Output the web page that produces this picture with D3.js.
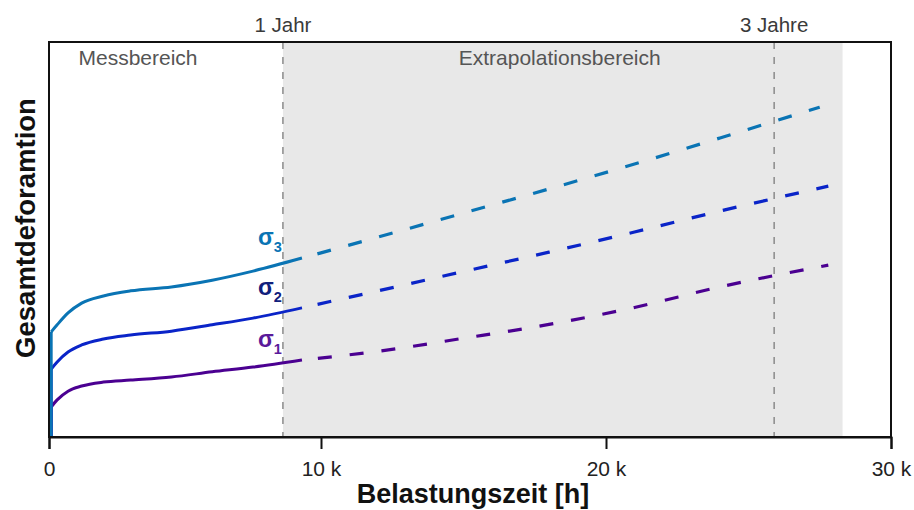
<!DOCTYPE html>
<html>
<head>
<meta charset="utf-8">
<script src="https://cdn.jsdelivr.net/npm/d3@7"></script>
<style>
  body { margin: 0; background: #fff; }
  svg { display: block; font-family: "Liberation Sans", Arial, sans-serif; }
</style>
</head>
<body>
<svg id="chart" width="914" height="510"></svg>
<script>
// Belastungszeit [h] - gemessener Bereich
const tSolid = [80, 300, 700, 1200, 2000, 3000, 4500, 6000, 7500, 9300];
const sigma1Solid = [7.6, 9.4, 11.6, 12.9, 13.9, 14.4, 15.2, 16.5, 17.7, 19.5];
const sigma2Solid = [17.2, 19.0, 21.5, 23.3, 24.8, 25.8, 26.8, 28.4, 30.1, 32.7];
const sigma3Solid = [26.6, 28.4, 31.4, 33.9, 35.7, 37.0, 38.0, 39.7, 42.0, 45.3];

// Extrapolation
const tExtra = [9300, 12000, 15000, 18000, 21000, 24000, 27800];
const tExtra3 = [9300, 12000, 15000, 18000, 21000, 24000, 27500];
const sigma1Extra = [19.5, 21.7, 25.0, 28.5, 32.8, 38.0, 43.5];
const sigma2Extra = [32.7, 37.0, 41.9, 46.8, 51.9, 57.2, 63.5];
const sigma3Extra = [45.3, 50.6, 56.7, 62.8, 69.1, 75.7, 83.5];

const seriesNames = ["1", "2", "3"];
const seriesColors = ["#4b0091", "#0a24c8", "#0a74b4"];
const labelColors = ["#5a1a9a", "#10207c", "#0a74b4"];

const xTicks = [0, 10000, 20000, 30000];
const markers = [8600, 25900];
const markerLabels = ["1 Jahr", "3 Jahre"];
const extraEnd = 28300;

const margin = { top: 42, right: 23, bottom: 73, left: 49 };
const W = 914, H = 510;

const svg = d3.select("#chart");

const x = d3.scaleLinear()
  .domain([0, 10000, 30000])
  .range([49, 321, 891]);
const y = d3.scaleLinear()
  .domain([0, 100])
  .range([H - margin.bottom, margin.top]);

// Extrapolationsbereich (grau)
svg.append("rect")
  .attr("x", x(markers[0]))
  .attr("y", margin.top)
  .attr("width", x(extraEnd) - x(markers[0]))
  .attr("height", y(0) - margin.top)
  .attr("fill", "#e8e8e8");

// gestrichelte Linien 1 Jahr / 3 Jahre
svg.selectAll(".marker")
  .data(markers)
  .enter().append("line")
  .attr("class", "marker")
  .attr("x1", d => x(d)).attr("x2", d => x(d))
  .attr("y1", margin.top).attr("y2", y(0))
  .attr("stroke", "#8a8a8a")
  .attr("stroke-width", 1.5)
  .attr("stroke-dasharray", "7,8");

svg.selectAll(".marker-label")
  .data(markers)
  .enter().append("text")
  .attr("x", d => x(d))
  .attr("y", 32)
  .attr("text-anchor", "middle")
  .attr("font-size", 20.5)
  .attr("fill", "#3a3a3a")
  .text((d, i) => markerLabels[i]);

svg.append("text")
  .attr("x", 138)
  .attr("y", 65)
  .attr("text-anchor", "middle")
  .attr("font-size", 21)
  .attr("fill", "#555")
  .text("Messbereich");

svg.append("text")
  .attr("x", (x(markers[0]) + x(extraEnd)) / 2 - 3)
  .attr("y", 65)
  .attr("text-anchor", "middle")
  .attr("font-size", 21)
  .attr("fill", "#555")
  .text("Extrapolationsbereich");

// Kurven
const solidSets = [sigma1Solid, sigma2Solid, sigma3Solid];
const extraSets = [sigma1Extra, sigma2Extra, sigma3Extra];
const extraTimes = [tExtra, tExtra, tExtra3];

const curveLine = d3.line()
  .x(d => x(d[0]))
  .y(d => y(d[1]))
  .curve(d3.curveMonotoneX);
const straight = d3.line()
  .x(d => x(d[0]))
  .y(d => y(d[1]));

solidSets.forEach((vals, i) => {
  const pts = tSolid.map((t, j) => [t, vals[j]]);
  svg.append("path")
    .attr("d", straight([[tSolid[0], 0], pts[0]]))
    .attr("fill", "none")
    .attr("stroke", seriesColors[i])
    .attr("stroke-width", 3);
  svg.append("path")
    .attr("d", curveLine(pts))
    .attr("fill", "none")
    .attr("stroke", seriesColors[i])
    .attr("stroke-width", 3);

  const ext = extraTimes[i].map((t, j) => [t, extraSets[i][j]]);
  svg.append("path")
    .attr("d", curveLine(ext))
    .attr("fill", "none")
    .attr("stroke", seriesColors[i])
    .attr("stroke-width", 3.2)
    .attr("stroke-dasharray", "0,16,14,2");

  // Beschriftung sigma
  const lab = svg.append("text")
    .attr("x", x(markers[0]) - 1)
    .attr("y", y(vals[vals.length - 1]) - 13)
    .attr("text-anchor", "end")
    .attr("font-weight", "bold")
    .attr("font-size", 23)
    .attr("fill", labelColors[i]);
  lab.append("tspan").text("σ");
  lab.append("tspan")
    .attr("font-size", 14.5)
    .attr("dy", 7)
    .text(seriesNames[i]);
});

// Rahmen
svg.append("rect")
  .attr("x", margin.left)
  .attr("y", margin.top)
  .attr("width", x(30000) - margin.left)
  .attr("height", y(0) - margin.top)
  .attr("fill", "none")
  .attr("stroke", "#111")
  .attr("stroke-width", 2);

// x Achse
const xAxis = svg.append("g")
  .attr("transform", `translate(0,${y(0)})`)
  .call(d3.axisBottom(x)
    .tickValues(xTicks)
    .tickSize(12)
    .tickPadding(12)
    .tickFormat(d => d === 0 ? "0" : `${d / 1000} k`));
xAxis.select(".domain").attr("stroke", "#111").attr("stroke-width", 2);
xAxis.selectAll(".tick line").attr("stroke", "#111").attr("stroke-width", 2);
xAxis.selectAll(".tick text")
  .attr("font-size", 21)
  .attr("font-family", "Liberation Sans, Arial, sans-serif")
  .attr("fill", "#222");

svg.append("text")
  .attr("x", 473)
  .attr("y", 503)
  .attr("text-anchor", "middle")
  .attr("font-weight", "bold")
  .attr("font-size", 27)
  .attr("fill", "#111")
  .text("Belastungszeit [h]");

svg.append("text")
  .attr("transform", `translate(35,228) rotate(-90)`)
  .attr("text-anchor", "middle")
  .attr("font-weight", "bold")
  .attr("font-size", 27.5)
  .attr("fill", "#111")
  .text("Gesamtdeforamtion");
</script>
</body>
</html>
